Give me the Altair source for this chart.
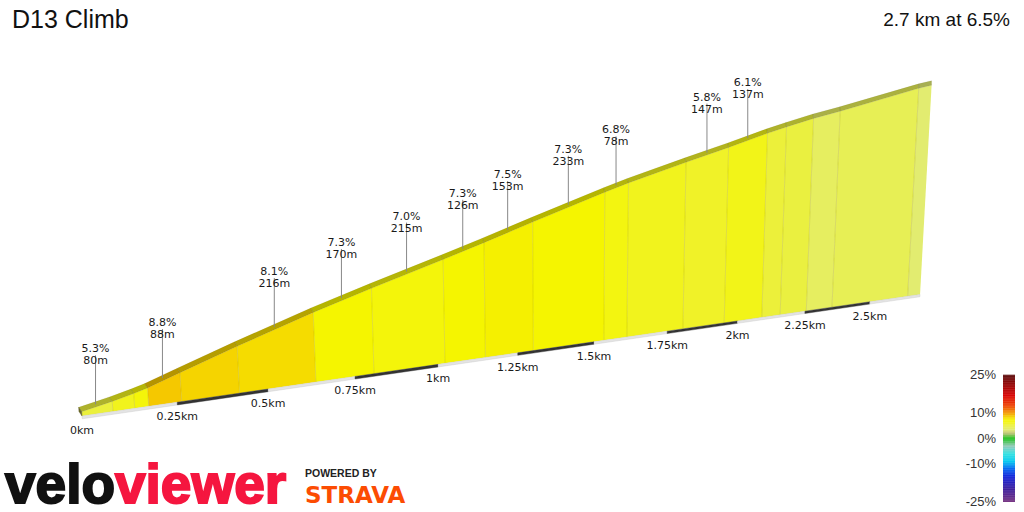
import altair as alt
import pandas as pd

# ---------------------------------------------------------------------------
# Climb data
# ---------------------------------------------------------------------------
climb_name = "D13 Climb"
climb_summary = "2.7 km at 6.5%"

# profile segments: length (m), average gradient (%), whether it is annotated
seg_length_m = [80, 57, 37, 88, 158, 216, 170, 215, 126, 153, 233, 78,
                194, 147, 137, 68, 98, 98, 297, 50]
seg_grade_pct = [5.3, 6.0, 7.0, 8.8, 8.5, 8.1, 7.3, 7.0, 7.3, 7.5, 7.3, 6.8,
                 6.0, 5.8, 6.1, 5.5, 5.0, 4.0, 4.5, 3.5]
seg_labelled = [True, False, False, True, False, True, True, True, True, True,
                True, True, False, True, True, False, False, False, False, False]

km_ticks = [0, 0.25, 0.5, 0.75, 1.0, 1.25, 1.5, 1.75, 2.0, 2.25, 2.5]
km_tick_labels = ["0km", "0.25km", "0.5km", "0.75km", "1km", "1.25km",
                  "1.5km", "1.75km", "2km", "2.25km", "2.5km"]

legend_values = [-25, -10, 0, 10, 25]
legend_labels = ["-25%", "-10%", "0%", "10%", "25%"]
grade_stops = [-25, -20, -15, -12, -9, -6, -3, 0, 2, 3.5, 4.0, 4.5, 5.0,
               5.5, 5.8, 6.1, 6.8, 7.3, 7.5, 8.1, 8.5, 8.8, 10, 13, 17, 21, 25]
grade_colours = ["#74307f", "#3a1a9a", "#1020d8", "#0060f0", "#00c8f0",
                 "#30e0e0", "#90c8b8", "#18c018", "#b8c070", "#e2ec70",
                 "#e6ee60", "#e7ef55", "#eaf040", "#ecf03a", "#f0f228",
                 "#f2f418", "#f3f510", "#f5f500", "#f5f000", "#f5dc00",
                 "#f5d400", "#f5c800", "#f39a00", "#ee4000", "#d80000",
                 "#960000", "#5a0a0a"]

# ---------------------------------------------------------------------------
# Oblique perspective view of the profile slab
# ---------------------------------------------------------------------------
PX_PER_KM = 390.0     # horizontal scale at the near end
DEPTH = 0.095         # foreshortening per km
TILT = -2.2e-4        # camera pitch (per metre of height)
LEAN = 480.0 * TILT   # horizontal drift of verticals
GROUND_RISE = 0.145 * PX_PER_KM
PX_PER_M = 1.40
FLOOR_M = 3.0         # slab thickness under the road
BAR_M = 2.0           # distance scale bar height
TOP_DY = 4.5          # visible depth of the road surface
TOP_DX0, TOP_DX1 = -3.0, 1.1


def project(d, z, w=0.0):
    den = 1 + DEPTH * d + TILT * z
    px = (PX_PER_KM * d + LEAN * z) / den + w * (TOP_DX0 + TOP_DX1 * d)
    py = (GROUND_RISE * d + PX_PER_M * z) / den + w * TOP_DY
    return px, py


# cumulative distance / elevation
d_start, d_end, z_start, z_end = [], [], [], []
d, z = 0.0, 0.0
for length, grade in zip(seg_length_m, seg_grade_pct):
    d_start.append(d)
    z_start.append(z)
    d += length / 1000.0
    z += length * grade / 100.0
    d_end.append(d)
    z_end.append(z)
total_km = d

face_rows, top_rows, sep_rows, note_rows = [], [], [], []
for i, grade in enumerate(seg_grade_pct):
    d0, d1 = d_start[i], d_end[i]
    t0, t1 = z_start[i] + FLOOR_M, z_end[i] + FLOOR_M
    for k, (dd, zz) in enumerate([(d0, 0), (d0, t0), (d1, t1), (d1, 0)]):
        px, py = project(dd, zz)
        face_rows.append({"poly": i, "k": k, "grade": grade, "px": px, "py": py})
    for k, (dd, zz, ww) in enumerate([(d0, t0, 0), (d1, t1, 0), (d1, t1, 1), (d0, t0, 1)]):
        px, py = project(dd, zz, ww)
        top_rows.append({"poly": i, "k": k, "grade": grade, "px": px, "py": py})
    if i > 0:
        for k, zz in enumerate([0, t0]):
            px, py = project(d0, zz)
            sep_rows.append({"line": i, "k": k, "px": px, "py": py})
    if seg_labelled[i]:
        dm = (d0 + d1) / 2
        zm = (t0 + t1) / 2
        px, py = project(dm, zm, 0.5)
        note_rows.append({"px": px, "py": py,
                          "label": f"{grade:.1f}%\n{seg_length_m[i]}m"})

faces = pd.DataFrame(face_rows)
tops = pd.DataFrame(top_rows)
seps = pd.DataFrame(sep_rows)
notes = pd.DataFrame(note_rows)

cap_rows = []
for k, (zz, ww) in enumerate([(0, 0), (FLOOR_M, 0), (FLOOR_M, 1), (0, 1)]):
    px, py = project(0.0, zz, ww)
    cap_rows.append({"k": k, "px": px, "py": py})
cap = pd.DataFrame(cap_rows)

# alternating distance scale bar along the base
bar_rows = []
q = 0
while q * 0.25 < total_km - 1e-9:
    a, b = q * 0.25, min((q + 1) * 0.25, total_km)
    shade = "dark" if q % 2 else "light"
    for k, (dd, zz) in enumerate([(a, 0), (b, 0), (b, -BAR_M), (a, -BAR_M)]):
        px, py = project(dd, zz)
        bar_rows.append({"q": q, "k": k, "shade": shade, "px": px, "py": py})
    q += 1
bars = pd.DataFrame(bar_rows)

tick_rows = []
for t, lab in zip(km_ticks, km_tick_labels):
    px, py = project(t, 0)
    tick_rows.append({"px": px, "py": py, "label": lab})
ticks = pd.DataFrame(tick_rows)

# ---------------------------------------------------------------------------
# Chart
# ---------------------------------------------------------------------------
W, H = 1024, 512
ORIGIN_X, ORIGIN_Y = 82, 416
xs = alt.Scale(domain=[-ORIGIN_X, W - ORIGIN_X], nice=False, zero=False)
ys = alt.Scale(domain=[ORIGIN_Y - H, ORIGIN_Y], nice=False, zero=False)
X = alt.X("px:Q", scale=xs, axis=None)
Y = alt.Y("py:Q", scale=ys, axis=None)

grade_scale = alt.Scale(domain=grade_stops, range=grade_colours, interpolate="rgb")
GRADE_FILL = alt.Fill("grade:Q", scale=grade_scale, legend=None)

# colour ramp key (bottom right): grade -> vertical position in the key
KEY_TOP, KEY_LEN = ORIGIN_Y - 375, 127.0
key_step = 0.25
key_rows = []
g = -25.0
while g < 25.0 - 1e-9:
    y0 = KEY_TOP - KEY_LEN + (g + 25) / 50 * KEY_LEN
    y1 = KEY_TOP - KEY_LEN + (g + key_step + 25) / 50 * KEY_LEN
    key_rows.append({"grade": g + key_step / 2, "py0": y0, "py1": y1 + 0.3})
    g += key_step
key = pd.DataFrame(key_rows)
key_text = pd.DataFrame({
    "py": [KEY_TOP - KEY_LEN + (v + 25) / 50 * KEY_LEN for v in legend_values],
    "label": legend_labels,
})

face_layer = alt.Chart(faces).mark_line(
    interpolate="linear-closed", strokeOpacity=0
).encode(x=X, y=Y, order="k:Q", detail="poly:N", fill=GRADE_FILL)

sep_layer = alt.Chart(seps).mark_line(color="#8c8400", strokeWidth=1, opacity=0.22).encode(
    x=X, y=Y, order="k:Q", detail="line:N")

top_layer = alt.Chart(tops).mark_line(
    interpolate="linear-closed", strokeOpacity=0
).encode(x=X, y=Y, order="k:Q", detail="poly:N", fill=GRADE_FILL)
top_shade = alt.Chart(tops).mark_line(
    interpolate="linear-closed", fill="black", fillOpacity=0.26,
    stroke="black", strokeOpacity=0.12, strokeWidth=0.5
).encode(x=X, y=Y, order="k:Q", detail="poly:N")

cap_layer = alt.Chart(cap).mark_line(
    interpolate="linear-closed", fill="#68662a", stroke="#68662a", strokeWidth=0.5
).encode(x=X, y=Y, order="k:Q")

bar_layer = alt.Chart(bars).mark_line(interpolate="linear-closed", strokeWidth=0.4).encode(
    x=X, y=Y, order="k:Q", detail="q:N",
    fill=alt.Fill("shade:N", scale=alt.Scale(domain=["light", "dark"], range=["#e4e4e4", "#333333"]), legend=None),
    stroke=alt.Stroke("shade:N", scale=alt.Scale(domain=["light", "dark"], range=["#c8c8c8", "#333333"]), legend=None),
)

leader_layer = alt.Chart(notes).mark_rule(color="#888888", strokeWidth=1, y2Offset=-49).encode(
    x=X, y=Y, y2="py:Q")
note_layer = alt.Chart(notes).mark_text(
    font="DejaVu Sans", fontSize=11, color="#1a1a1a", baseline="bottom",
    dy=-50, lineBreak="\n", lineHeight=12
).encode(x=X, y=Y, text="label:N")

tick_layer = alt.Chart(ticks).mark_text(
    font="DejaVu Sans", fontSize=11, color="#1a1a1a", baseline="middle", dy=15
).encode(x=X, y=Y, text="label:N")

key_layer = alt.Chart(key).mark_rect().encode(
    x=alt.value(1003), x2=alt.value(1015),
    y=alt.Y("py0:Q", scale=ys, axis=None), y2="py1:Q", fill=GRADE_FILL)
key_label_layer = alt.Chart(key_text).mark_text(
    font="Liberation Sans", fontSize=13, color="#333333", align="right", baseline="middle"
).encode(x=alt.value(996), y=alt.Y("py:Q", scale=ys, axis=None), text="label:N")


def static_text(txt, x, y, **kw):
    return alt.Chart(pd.DataFrame({"t": [txt]})).mark_text(**kw).encode(
        text="t:N", x=alt.value(x), y=alt.value(y))


title_layer = static_text(climb_name, 12, 28, font="Liberation Sans",
                          fontSize=25, color="#111111", align="left", baseline="alphabetic")
summary_layer = static_text(climb_summary, 1010, 26, font="Liberation Sans",
                            fontSize=19, color="#111111", align="right", baseline="alphabetic")
logo_a = static_text("velo", 5, 503, font="Liberation Sans", fontSize=55,
                     fontWeight="bold", color="#111111", stroke="#111111", strokeWidth=2,
                     align="left", baseline="alphabetic")
logo_b = static_text("viewer", 115, 503, font="Liberation Sans", fontSize=55,
                     fontWeight="bold", color="#f5163f", stroke="#f5163f", strokeWidth=2,
                     align="left", baseline="alphabetic")
powered = static_text("POWERED BY", 305, 477, font="Liberation Sans", fontSize=10.5,
                      fontWeight="bold", color="#222222", align="left", baseline="alphabetic")
strava = static_text("STRAVA", 305, 503, font="DejaVu Sans", fontSize=23,
                     fontWeight="bold", color="#fc4c02", align="left", baseline="alphabetic")

chart = alt.layer(
    face_layer, sep_layer, top_layer, top_shade, cap_layer, bar_layer,
    leader_layer, note_layer, tick_layer, key_layer, key_label_layer,
    title_layer, summary_layer, logo_a, logo_b, powered, strava,
).properties(
    width=W, height=H, autosize=alt.AutoSizeParams(type="none"), padding=0,
    background="white",
).configure_view(stroke=None)

chart.save("out.html", embed_options={"renderer": "svg", "actions": False})
